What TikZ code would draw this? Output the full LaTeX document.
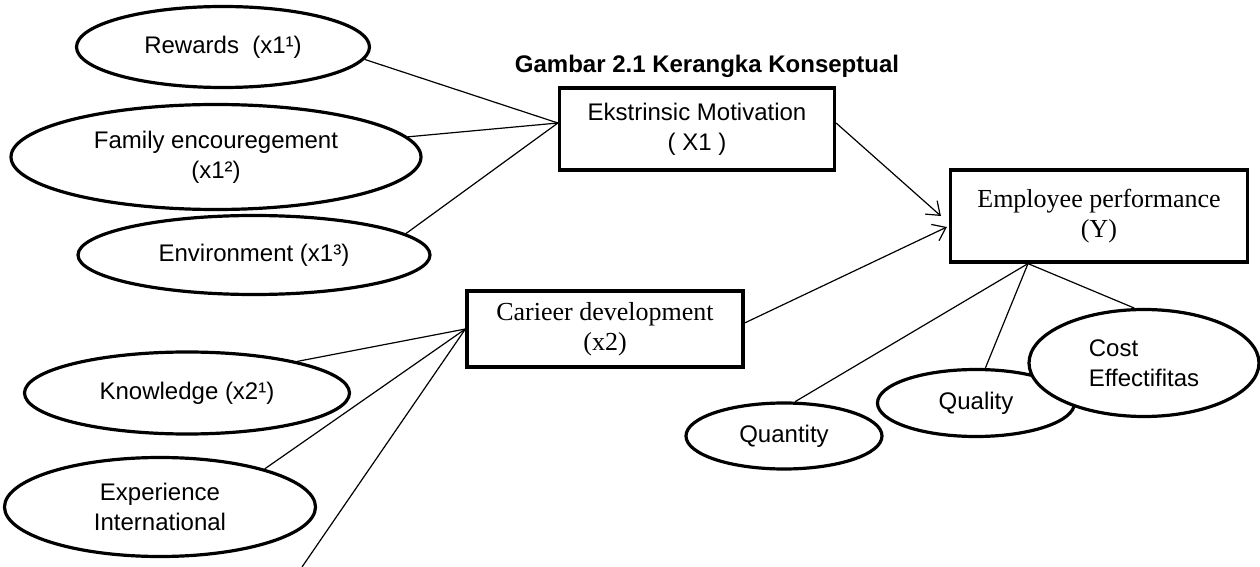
\documentclass[tikz,border=0pt]{standalone}
\usepackage{fontspec}
\setmainfont{Liberation Sans}
\newfontfamily\tms{Liberation Serif}
\usepackage{tikz}
\usetikzlibrary{arrows.meta, positioning, shapes.geometric}

\begin{document}
\begin{tikzpicture}[x=0.5pt, y=-0.5pt, on grid, font=\fontsize{12}{15}\selectfont,
  ind/.style = {draw, ellipse, line width=1.6pt, fill=white, inner sep=0pt, align=center},
  var/.style = {draw, rectangle, line width=1.6pt, fill=white, inner sep=0pt, align=center},
  link/.style = {line width=0.6pt},
  arr/.style = {line width=0.6pt, -{Straight Barb[length=6pt, width=9pt]}}]
\useasboundingbox (0,0) rectangle (1260,567);
\node[var, minimum width=137.5pt, minimum height=41pt] (1) at (697,129) {Ekstrinsic Motivation\\( X1 )};
\node[font=\fontsize{12}{15}\selectfont\bfseries] (0) [above=31.5pt of 1, xshift=5pt] {Gambar 2.1 Kerangka Konseptual};
\node[var, font=\tms\fontsize{13}{15}\selectfont, minimum width=138pt, minimum height=38pt] (2) [below left=100pt and 46pt of 1] {Carieer development\\(x2)};
\node[var, font=\tms\fontsize{13}{15}\selectfont, minimum width=148.5pt, minimum height=46pt] (3) [below right=43.5pt and 201pt of 1] {Employee performance\\(Y)};
\node[ind, minimum width=146.5pt, minimum height=40.5pt] (4) [above left=41pt and 237pt of 1] {Rewards~~(x1¹)};
\node[ind, minimum width=205pt, minimum height=52.5pt] (5) [below left=55pt and 3.5pt of 4] {Family encouregement\\(x1²)};
\node[ind, minimum width=176pt, minimum height=39.5pt] (6) [below right=49pt and 19pt of 5] {Environment (x1³)};
\node[ind, minimum width=162.5pt, minimum height=41pt] (7) [below left=32pt and 209pt of 2] {Knowledge (x2¹)};
\node[ind, minimum width=155.5pt, minimum height=49.5pt] (8) [below left=57pt and 13.5pt of 7] {Experience\\International};
\node[ind, minimum width=98pt, minimum height=33pt] (9) [below left=110pt and 157.5pt of 3] {Quantity};
\node[ind, minimum width=98.5pt, minimum height=33.5pt] (10) [below left=93.5pt and 61.5pt of 3] {Quality};
\node[ind, minimum width=115pt, minimum height=53.5pt, align=left] (11) [below right=73.5pt and 22.5pt of 3] {Cost\\Effectifitas};
\coordinate (12) at (302,567);
\draw[link] (4.-5) -- ([yshift=3pt]1.west); \draw[link] (5.6) -- ([yshift=3pt]1.west); \draw[link] (6.8) -- ([yshift=3pt]1.west);
\draw[link] (7.16) -- (2.west); \draw[link] (8.20) -- (2.west); \draw[link] (12) -- (2.west);
\draw[arr] ([yshift=3pt]1.east) -- ([xshift=-4pt]3.west);
\draw[arr] ([yshift=3pt]2.east) -- ([xshift=-1pt, yshift=-5.5pt]3.west);
\draw[link] ([xshift=-35.5pt]3.south) -- (9.72); \draw[link] ([xshift=-35.5pt]3.south) -- (10.75); \draw[link] ([xshift=-35.5pt]3.south) -- (11.100);
\end{tikzpicture}
\end{document}
